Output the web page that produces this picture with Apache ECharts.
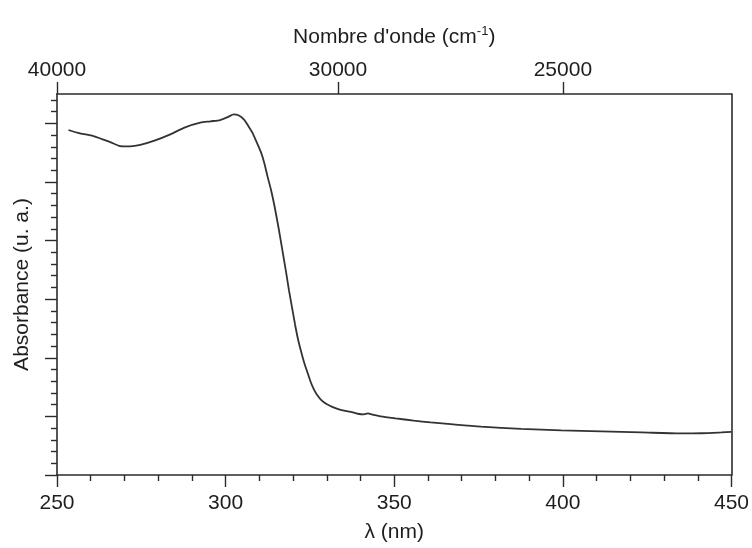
<!DOCTYPE html>
<html>
<head>
<meta charset="utf-8">
<script src="https://cdn.jsdelivr.net/npm/echarts@6/dist/echarts.min.js"></script>
<style>
html,body{margin:0;padding:0;background:#fff;}
#chart{width:752px;height:548px;}
</style>
</head>
<body>
<div id="chart"></div>
<script>
// Wavelength (nm) and absorbance (arbitrary units)
var wavelengths = [253.4,256.8,260.8,265.8,268.7,271.7,274.7,279.1,283.6,288.0,292.5,295.5,298.4,300.8,302.4,303.8,305.4,306.6,307.9,309.1,310.5,311.5,312.4,313.5,314.4,315.3,316.2,317.1,318.0,318.8,319.7,320.6,321.5,322.4,323.3,324.3,325.2,326.1,327.1,328.3,329.8,331.6,334.1,337.1,339.2,341.0,342.2,343.5,346.0,350.4,355.8,360.8,365.9,375.7,387.6,399.5,411.4,423.3,435.1,441.1,447.0,450.0];
var absorbance = [5.886,5.829,5.783,5.680,5.612,5.607,5.632,5.709,5.812,5.932,6.012,6.034,6.056,6.111,6.154,6.137,6.068,5.966,5.846,5.692,5.504,5.316,5.099,4.855,4.615,4.342,4.051,3.744,3.436,3.145,2.855,2.564,2.308,2.103,1.915,1.744,1.590,1.470,1.368,1.282,1.214,1.162,1.111,1.077,1.045,1.035,1.050,1.030,1.000,0.966,0.928,0.897,0.872,0.826,0.786,0.761,0.744,0.726,0.709,0.712,0.726,0.735];
var bottomTicks = [250,300,350,400,450];
var topWavenumbers = [40000,30000,25000];
var yMajorTicks = [0,1,2,3,4,5,6];
var yMinorTicks = [0.2,0.4,0.6,0.8,1.2,1.4,1.6,1.8,2.2,2.4,2.6,2.8,3.2,3.4,3.6,3.8,4.2,4.4,4.6,4.8,5.2,5.4,5.6,5.8,6.2,6.4];

var topPositions = topWavenumbers.map(function(w){ return 1e7 / w; });
var seriesData = wavelengths.map(function(x,i){ return [x, absorbance[i]]; });

var axisColor = '#2b2b2b';
var textColor = '#1e1e1e';
var fontFamily = "'Liberation Sans', Arial, sans-serif";
var fs = 21;

var chart = echarts.init(document.getElementById('chart'), null, {renderer:'canvas'});
chart.setOption({
  animation: false,
  backgroundColor: '#ffffff',
  grid: {left: 57, right: 20, top: 94, bottom: 73, containLabel: false},
  xAxis: [
    {
      type: 'value', position: 'bottom', min: 250, max: 450, interval: 50,
      name: 'λ (nm)', nameLocation: 'middle', nameGap: 47,
      nameTextStyle: {color: textColor, fontSize: fs, fontFamily: fontFamily},
      axisLine: {show: true, onZero: false, lineStyle: {color: axisColor, width: 1.6}},
      axisTick: {show: true, inside: false, length: 12, lineStyle: {color: axisColor, width: 1.4}},
      minorTick: {show: true, splitNumber: 5, length: 6, lineStyle: {color: axisColor, width: 1.4}},
      axisLabel: {show: true, margin: 18, color: textColor, fontSize: fs, fontFamily: fontFamily,
        customValues: bottomTicks},
      splitLine: {show: false}
    },
    {
      type: 'value', position: 'top', min: 250, max: 450,
      name: "Nombre d'onde (cm{sup|-1})", nameLocation: 'middle', nameGap: 44,
      nameTextStyle: {color: textColor, fontSize: fs, fontFamily: fontFamily,
        rich: {sup: {fontSize: 13, fontFamily: fontFamily, color: textColor, verticalAlign: 'top', padding: [0,0,12,0]}}},
      axisLine: {show: true, onZero: false, lineStyle: {color: axisColor, width: 1.6}},
      axisTick: {show: true, inside: false, length: 12, customValues: topPositions, lineStyle: {color: axisColor, width: 1.4}},
      axisLabel: {show: true, margin: 13, color: textColor, fontSize: fs, fontFamily: fontFamily,
        customValues: topPositions,
        formatter: function(v){ return String(Math.round(1e7 / v)); }},
      splitLine: {show: false}
    }
  ],
  yAxis: [
    {
      type: 'value', position: 'left', min: 0, max: 6.5,
      name: 'Absorbance (u. a.)', nameLocation: 'middle', nameGap: 24, nameRotate: 90,
      nameTextStyle: {color: textColor, fontSize: fs, fontFamily: fontFamily},
      axisLine: {show: true, onZero: false, lineStyle: {color: axisColor, width: 1.6}},
      axisTick: {show: true, inside: false, length: 12, customValues: yMajorTicks, lineStyle: {color: axisColor, width: 1.4}},
      axisLabel: {show: false},
      splitLine: {show: false}
    },
    {
      type: 'value', position: 'left', min: 0, max: 6.5,
      axisLine: {show: false},
      axisTick: {show: true, inside: false, length: 6, customValues: yMinorTicks, lineStyle: {color: axisColor, width: 1.4}},
      axisLabel: {show: false},
      splitLine: {show: false}
    },
    {
      type: 'value', position: 'right', min: 0, max: 6.5,
      axisLine: {show: true, onZero: false, lineStyle: {color: axisColor, width: 1.6}},
      axisTick: {show: false},
      axisLabel: {show: false},
      splitLine: {show: false}
    }
  ],
  series: [{
    type: 'line',
    xAxisIndex: 0, yAxisIndex: 0,
    data: seriesData,
    showSymbol: false,
    smooth: 0.25,
    lineStyle: {color: '#333333', width: 1.8},
    silent: true
  }]
});
</script>
</body>
</html>
